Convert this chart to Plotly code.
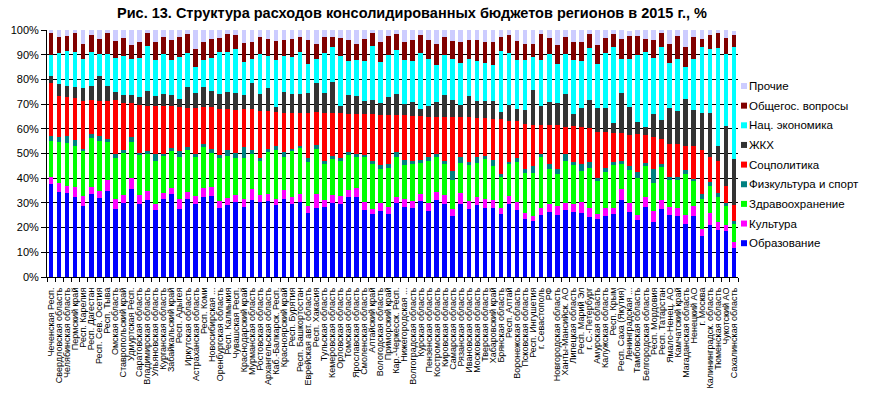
import plotly.graph_objects as go

regions = [
    "Чеченская Респ.", "Свердловская область", "Челябинская область", "Пермский край",
    "Респ. Карелия", "Респ. Дагестан", "Респ. Сев. Осетия", "Респ. Тыва", "Омская область",
    "Ставропольский край", "Удмуртская Респ.", "Саратовская область", "Владимирская область",
    "Ульяновская область", "Курганская область", "Забайкальский край", "Респ. Адыгея",
    "Иркутская область", "Астраханская область", "Респ. Коми", "Новосибирская ...",
    "Оренбургская область", "Респ. Калмыкия", "Чувашская Респ.", "Краснодарский край",
    "Мурманская область", "Ростовская область", "Архангельская область", "Каб.-Балкарск. Респ.",
    "Красноярский край", "Респ. Бурятия", "Респ. Башкортостан", "Еврейская авт. область",
    "Респ. Хакасия", "Тульская область", "Кемеровская область", "Орловская область",
    "Томская область", "Ярославская область", "Смоленская область", "Алтайский край",
    "Вологодская область", "Приморский край", "Кар.-Черкесск. Респ.", "Нижегородская ...",
    "Волгоградская область", "Курская область", "Пензенская область", "Костромская область",
    "Кировская область", "Самарская область", "Рязанская область", "Ивановская область",
    "Московская область", "Тверская область", "Хабаровский край", "Брянская область",
    "Респ. Алтай", "Воронежская область", "Псковская область", "Респ. Ингушетия",
    "г. Севастополь", "РФ", "Новгородская область", "Ханты-Мансийск. АО", "Липецкая область",
    "Респ. Марий Эл", "г. С.-Петербург", "Амурская область", "Калужская область", "Респ. Крым",
    "Респ. Саха (Якутия)", "Ленинградская ...", "Тамбовская область", "Белгородская область",
    "Респ. Мордовия", "Респ. Татарстан", "Ямало-Ненец. АО", "Камчатский край",
    "Магаданская область", "Ненецкий АО", "г. Москва", "Калининградск. область",
    "Тюменская область", "Чукотский АО", "Сахалинская область",
]

obrazovanie = [37.5, 34.3, 33.9, 32.3, 28.6, 33.5, 31.8, 34.7, 27.4, 29.8, 35.5, 29.4, 31.0, 27.0, 31.4, 33.5, 27.4, 31.4, 29.4, 32.3, 32.7, 27.8, 29.0, 30.2, 28.2, 31.0, 30.2, 30.6, 29.0, 31.4, 29.4, 30.2, 25.8, 27.8, 28.2, 29.8, 29.4, 32.3, 32.3, 27.0, 25.4, 26.6, 25.4, 29.8, 28.2, 27.8, 30.6, 26.6, 31.0, 29.4, 24.6, 29.4, 27.4, 29.0, 27.8, 27.8, 25.4, 29.4, 27.0, 23.3, 22.5, 25.0, 26.2, 25.0, 27.0, 26.2, 25.8, 24.2, 23.3, 24.6, 25.4, 31.0, 26.2, 22.9, 28.2, 22.1, 27.4, 25.0, 24.6, 21.3, 24.6, 16.5, 20.9, 18.9, 18.5, 11.6]
kultura = [2.8, 3.8, 2.8, 4.0, 4.0, 2.8, 3.2, 4.5, 4.0, 3.2, 4.5, 3.6, 4.0, 2.4, 2.8, 2.4, 4.0, 3.2, 3.2, 3.6, 3.6, 2.8, 2.8, 3.2, 3.2, 4.5, 2.8, 3.2, 2.4, 4.0, 2.8, 3.6, 2.8, 5.7, 2.8, 3.2, 3.2, 2.8, 3.6, 3.2, 2.0, 3.2, 2.8, 2.4, 3.2, 2.8, 3.2, 3.2, 3.6, 4.0, 2.8, 4.5, 3.2, 3.2, 3.6, 3.2, 2.4, 3.2, 3.2, 2.8, 2.0, 2.8, 3.2, 3.6, 2.8, 3.2, 4.5, 3.6, 2.4, 3.2, 2.4, 4.5, 3.6, 2.4, 4.0, 4.5, 3.6, 3.2, 3.2, 4.0, 4.0, 2.8, 4.9, 3.2, 2.4, 2.4]
zdravoohranenie = [14.6, 16.5, 17.4, 16.6, 18.6, 19.8, 20.2, 15.4, 16.6, 17.4, 14.6, 16.6, 14.6, 17.4, 15.0, 15.4, 17.0, 17.0, 15.8, 16.6, 13.8, 17.4, 17.0, 14.6, 16.6, 14.2, 13.8, 17.0, 20.2, 13.0, 19.0, 18.6, 17.8, 18.2, 14.6, 15.0, 14.2, 14.2, 13.0, 18.6, 18.6, 13.8, 15.8, 16.2, 13.8, 15.0, 12.6, 17.0, 14.2, 12.6, 11.7, 12.1, 14.6, 13.8, 16.2, 13.8, 13.0, 13.4, 16.2, 16.2, 17.8, 20.6, 14.2, 13.0, 17.0, 15.8, 12.6, 16.2, 13.0, 14.6, 17.4, 10.1, 13.4, 14.6, 12.6, 11.3, 13.4, 10.9, 11.3, 16.6, 10.5, 12.1, 10.9, 10.1, 8.1, 7.3]
fizkultura = [2.0, 2.0, 2.8, 2.4, 0.5, 1.6, 2.0, 1.2, 1.6, 1.2, 2.0, 0.8, 1.6, 2.8, 0.8, 0.8, 2.8, 1.2, 1.6, 1.2, 1.6, 1.2, 2.8, 2.4, 4.5, 1.6, 1.2, 1.2, 1.6, 2.4, 0.8, 0.8, 1.6, 1.6, 1.2, 0.8, 1.2, 1.2, 0.8, 0.4, 0.8, 1.6, 1.6, 2.4, 2.0, 1.2, 0.8, 1.6, 0.8, 0.8, 4.0, 2.4, 1.2, 2.4, 1.2, 2.4, 0.8, 0.4, 1.6, 1.6, 2.8, 1.2, 2.0, 2.0, 2.8, 1.2, 2.8, 2.4, 1.2, 1.6, 1.2, 1.2, 1.6, 2.8, 1.2, 5.7, 1.2, 1.2, 1.2, 1.6, 0.4, 2.4, 1.6, 2.0, 0.8, 1.2]
socpolitika = [21.5, 16.6, 15.9, 17.0, 19.7, 13.8, 14.2, 15.4, 21.9, 19.0, 13.8, 19.4, 18.2, 19.8, 19.4, 17.0, 17.8, 15.8, 18.6, 15.0, 17.0, 18.9, 16.6, 17.4, 15.4, 16.6, 19.4, 15.4, 13.8, 15.8, 14.6, 13.4, 18.6, 13.4, 19.4, 17.4, 18.2, 15.4, 16.2, 16.6, 19.0, 20.2, 19.8, 14.6, 18.2, 18.2, 17.8, 16.2, 15.0, 17.8, 21.5, 16.2, 18.2, 15.8, 15.4, 16.6, 22.3, 16.6, 15.0, 18.2, 16.6, 12.1, 15.8, 17.8, 11.3, 14.6, 15.0, 13.8, 19.0, 14.6, 12.1, 11.7, 12.6, 15.0, 11.3, 13.0, 10.1, 13.4, 13.4, 9.7, 13.4, 17.8, 10.1, 12.6, 6.9, 6.5]
zhkh = [2.8, 4.9, 4.7, 4.5, 5.3, 5.7, 10.1, 6.1, 3.6, 3.2, 3.2, 3.2, 6.1, 4.0, 4.5, 4.5, 3.2, 8.5, 5.7, 8.1, 6.5, 6.1, 6.5, 6.5, 5.7, 10.5, 6.5, 9.3, 2.0, 8.5, 7.3, 7.3, 7.7, 11.7, 8.1, 12.6, 3.2, 7.7, 7.3, 5.3, 5.7, 4.9, 7.3, 8.5, 4.5, 5.7, 3.2, 4.5, 6.1, 8.9, 6.9, 4.9, 8.5, 6.9, 6.9, 7.3, 2.8, 6.5, 4.9, 5.7, 14.2, 7.7, 9.3, 8.9, 13.0, 4.9, 7.7, 11.3, 9.7, 9.7, 4.0, 15.8, 11.3, 4.9, 3.6, 9.3, 7.7, 14.6, 13.4, 19.0, 14.6, 15.0, 18.2, 6.1, 24.3, 18.6]
nacekonomika = [8.8, 12.6, 13.8, 14.2, 11.7, 13.8, 8.9, 13.0, 13.4, 15.8, 14.6, 15.8, 18.2, 14.6, 16.2, 14.2, 17.0, 13.4, 10.9, 10.9, 13.4, 17.0, 16.2, 18.2, 13.5, 9.7, 16.2, 12.6, 19.0, 14.2, 15.0, 17.0, 12.1, 9.7, 16.2, 14.2, 20.2, 13.8, 14.6, 16.2, 21.9, 16.7, 17.0, 18.2, 17.8, 16.6, 22.3, 19.0, 15.0, 16.2, 16.6, 17.0, 15.0, 16.2, 15.4, 14.6, 24.7, 21.1, 19.8, 20.2, 13.0, 18.6, 19.4, 15.8, 16.2, 21.9, 19.0, 21.1, 17.8, 22.3, 30.8, 13.8, 19.4, 27.1, 30.0, 22.7, 29.6, 18.2, 21.1, 13.0, 20.6, 26.7, 25.9, 39.7, 29.1, 45.7]
obshchegos = [8.6, 6.5, 6.1, 7.7, 6.1, 6.9, 6.1, 8.5, 6.9, 7.3, 5.7, 6.5, 4.9, 7.3, 6.9, 8.1, 8.1, 7.7, 7.3, 7.3, 7.7, 5.7, 7.3, 5.3, 7.7, 6.9, 6.9, 6.9, 7.7, 6.5, 7.3, 6.1, 9.7, 6.1, 6.5, 4.0, 7.3, 8.5, 6.5, 8.9, 5.3, 8.1, 7.7, 6.1, 7.3, 8.5, 7.3, 7.7, 8.5, 7.3, 7.3, 8.5, 7.7, 8.5, 8.5, 9.3, 5.7, 7.3, 7.7, 6.5, 5.3, 10.5, 6.5, 7.7, 6.9, 7.3, 7.7, 5.7, 7.7, 6.1, 4.9, 8.1, 9.3, 7.7, 5.3, 7.3, 5.7, 7.7, 9.3, 8.1, 8.9, 3.2, 5.3, 6.1, 6.5, 4.5]
prochie = [1.3, 3.0, 2.6, 1.3, 5.4, 2.2, 3.4, 1.3, 4.7, 3.0, 6.2, 4.5, 1.3, 4.5, 3.4, 4.2, 2.6, 1.8, 7.4, 5.0, 3.8, 3.0, 1.8, 2.2, 5.0, 5.0, 3.0, 3.8, 4.2, 4.2, 3.8, 3.0, 3.8, 5.8, 3.0, 3.0, 3.0, 4.2, 5.8, 3.8, 1.3, 5.0, 2.6, 1.8, 5.0, 4.2, 2.2, 4.2, 5.8, 3.0, 4.5, 5.0, 4.2, 4.2, 5.0, 5.0, 3.0, 2.2, 4.5, 5.4, 5.8, 1.3, 3.4, 6.2, 3.0, 5.0, 5.0, 1.8, 5.8, 3.4, 1.8, 3.8, 2.2, 2.6, 3.8, 4.2, 1.3, 5.8, 2.6, 6.7, 3.0, 3.4, 2.2, 1.3, 3.4, 1.8]

series_names = ["Образование", "Культура", "Здравоохранение", "Физкультура и спорт",
                "Соцполитика", "ЖКХ", "Нац. экономика", "Общегос. вопросы", "Прочие"]
series_values = [obrazovanie, kultura, zdravoohranenie, fizkultura, socpolitika,
                 zhkh, nacekonomika, obshchegos, prochie]
series_colors = ["#0000FF", "#FF00FF", "#00FF00", "#008080", "#FF0000",
                 "#333333", "#00FFFF", "#800000", "#CCCCFF"]

title_text = "Рис. 13. Структура расходов консолидированных бюджетов регионов в 2015 г., %"
FONT = "Arial, 'Liberation Sans', sans-serif"

W, H = 869, 395
ML, MR, MT, MB = 47, 131, 30, 118
PW = W - ML - MR
PH = H - MT - MB

fig = go.Figure()
for name, vals, col in zip(series_names, series_values, series_colors):
    fig.add_trace(go.Bar(x=regions, y=vals, name=name, marker=dict(color=col, line=dict(width=0)),
                         showlegend=False))

# manual legend (Excel style: small square + text, top item = last series)
legend_top_px = 86
legend_step_px = 19.65
for i, (name, col) in enumerate(zip(reversed(series_names), reversed(series_colors))):
    cy = legend_top_px + i * legend_step_px
    x0 = (741 - ML) / PW
    x1 = (747 - ML) / PW
    y0 = (MT + PH - (cy + 3)) / PH
    y1 = (MT + PH - (cy - 3)) / PH
    fig.add_shape(type="rect", xref="paper", yref="paper", x0=x0, x1=x1, y0=y0, y1=y1,
                  fillcolor=col, line=dict(width=0))
    fig.add_annotation(xref="paper", yref="paper", x=(747 - ML) / PW, y=(MT + PH - cy) / PH,
                       text=name, showarrow=False, xanchor="left", yanchor="middle",
                       font=dict(family=FONT, size=11.5, color="black"))

fig.update_layout(
    width=W, height=H,
    margin=dict(l=ML, r=MR, t=MT, b=MB, pad=0, autoexpand=False),
    barmode="stack", bargap=0.42,
    paper_bgcolor="white", plot_bgcolor="white",
    font=dict(family=FONT, color="black"),
    title=dict(text="<b>" + title_text + "</b>", x=412 / W, xanchor="center",
               y=1 - 13 / H, yanchor="middle", automargin=False,
               font=dict(family=FONT, size=14.5, color="black")),
    xaxis=dict(type="category", tickmode="linear", tick0=0, dtick=1, tickangle=-90,
               tickson="boundaries", ticks="outside", ticklen=4, tickcolor="black",
               showline=True, linecolor="black", linewidth=1, showgrid=False,
               tickfont=dict(family=FONT, size=9, color="black"), ticklabelstandoff=6,
               automargin=False, range=[-0.5, len(regions) - 0.5]),
    yaxis=dict(range=[0, 100], tickmode="linear", tick0=0, dtick=10, ticksuffix="%",
               ticks="outside", ticklen=5, tickcolor="black", showline=True,
               linecolor="black", linewidth=1, showgrid=True, gridcolor="black",
               gridwidth=1, zeroline=False, automargin=False,
               tickfont=dict(family=FONT, size=11, color="black")),
)

fig.write_html("out.html", config={"displayModeBar": False},
               post_script="document.body.style.margin='0';document.body.style.overflow='hidden';")
